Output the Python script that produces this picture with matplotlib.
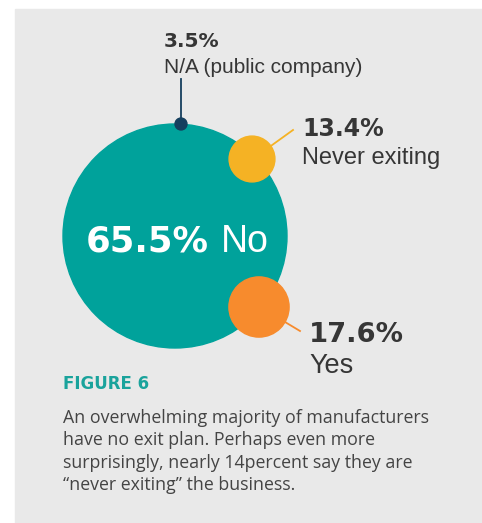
import matplotlib
matplotlib.use("Agg")
import matplotlib.pyplot as plt
from matplotlib.patches import Circle, Rectangle

# data
labels = ["No", "Never exiting", "Yes", "N/A (public company)"]
values = [65.5, 13.4, 17.6, 3.5]
colors = ["#00a29b", "#f5b224", "#f78b2d", "#153f5e"]

caption_title = "FIGURE 6"
caption_lines = ["An overwhelming majority of manufacturers",
                 "have no exit plan. Perhaps even more",
                 "surprisingly, nearly 14percent say they are",
                 "\u201cnever exiting\u201d the business."]

W, H = 482, 523
scale = 112 / 65.5  # pixel radius per percent

fig = plt.figure(figsize=(W / 100, H / 100), dpi=100)
ax = fig.add_axes([0, 0, 1, 1])
ax.set_xlim(0, W)
ax.set_ylim(H, 0)
ax.axis("off")
fig.patch.set_facecolor("white")

ax.add_patch(Rectangle((15, 9), W, H, color="#e9e9e9", zorder=0))

# circle centres (pixels)
centres = [(175, 236), (252, 159), (259, 307), (181, 124)]
for (cx, cy), v, c in zip(centres, values, colors):
    ax.add_patch(Circle((cx, cy), v * scale, color=c, zorder=3))

# leader lines
ax.plot([181, 181], [79, 124], color=colors[3], lw=1.3, zorder=2)
ax.plot([268, 293], [148, 130], color=colors[1], lw=1.3, zorder=2)
ax.plot([280, 300], [319, 331], color=colors[2], lw=1.3, zorder=2)

dark = "#363636"
sans = ["Liberation Sans", "DejaVu Sans"]
heavy = ["DejaVu Sans"]

ax.text(164, 47, f"{values[3]}%", fontsize=14.5, fontweight="bold", color=dark,
        family=heavy, va="baseline")
ax.text(164, 73, labels[3], fontsize=15, color=dark, family=sans, va="baseline")

ax.text(302, 136, f"{values[1]}%", fontsize=17, fontweight="bold", color=dark,
        family=heavy, va="baseline")
ax.text(302, 164, labels[1], fontsize=17, color=dark, family=sans, va="baseline")

ax.text(309, 342, f"{values[2]}%", fontsize=19.7, fontweight="bold", color=dark,
        family=heavy, va="baseline")
ax.text(309, 373, labels[2], fontsize=19.5, color=dark, family=sans, va="baseline")

ax.text(86, 252, f"{values[0]}%", fontsize=25.5, fontweight="bold", color="white",
        family=heavy, va="baseline", zorder=4)
ax.text(221, 252, labels[0], fontsize=27, color="white", family=sans,
        va="baseline", zorder=4)

ax.text(63, 389, caption_title, fontsize=12, fontweight="bold", color="#1aa39c",
        family=heavy, va="baseline")
for i, line in enumerate(caption_lines):
    ax.text(63, 423 + i * 22.4, line, fontsize=12.8, color="#444444",
            family=["Open Sans", "DejaVu Sans"], va="baseline")

fig.savefig("out.png", dpi=100, facecolor="white")
